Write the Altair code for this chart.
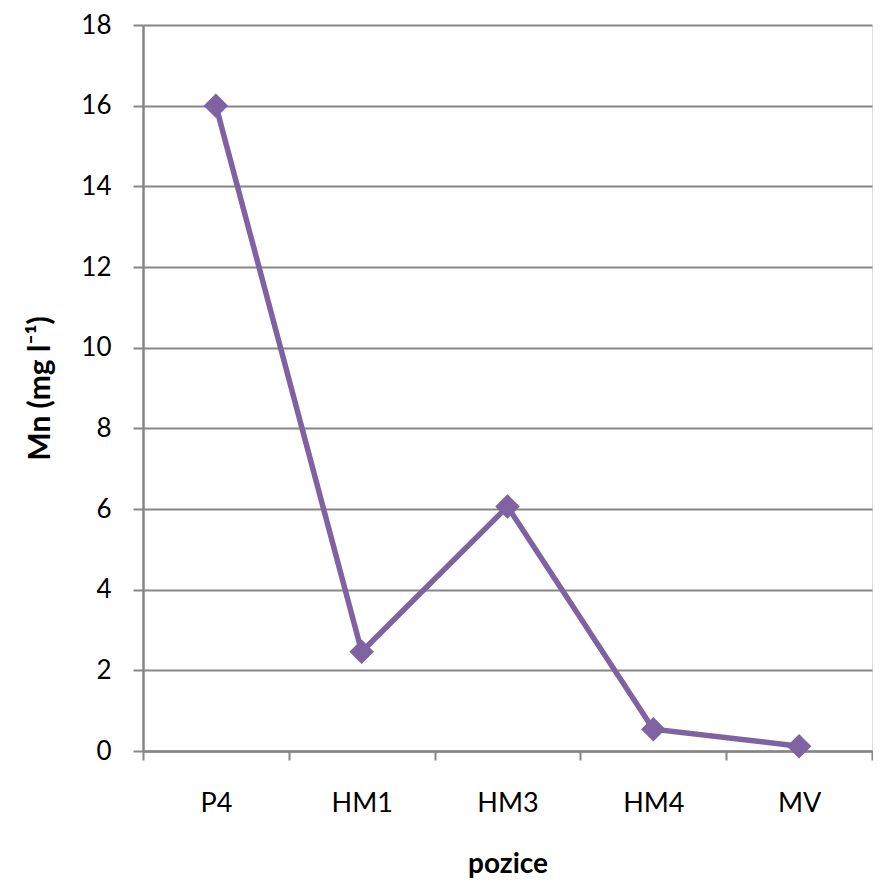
import altair as alt
import pandas as pd

categories = ["P4", "HM1", "HM3", "HM4", "MV"]
values = [16.0, 2.46, 6.06, 0.54, 0.12]

df = pd.DataFrame({"pozice": categories, "Mn": values})

FONT = "Lato"
GRID = "#868686"
PURPLE = "#7E62A1"

x = alt.X(
    "pozice:N",
    sort=categories,
    bandPosition=0.5,
    scale=alt.Scale(type="band", paddingInner=0, paddingOuter=0),
    axis=alt.Axis(
        title="pozice",
        labelAngle=0,
        tickBand="extent",
        domainColor=GRID,
        domainWidth=2.5,
        tickColor=GRID,
        tickWidth=2,
        tickSize=9,
        labelPadding=30,
        labelFontSize=27,
        labelFont=FONT,
        labelColor="black",
        titleFont=FONT,
        titleFontSize=28,
        titleFontWeight="bold",
        titleColor="black",
        titlePadding=34,
        grid=False,
    ),
)
y = alt.Y(
    "Mn:Q",
    scale=alt.Scale(domain=[0, 18], nice=False),
    axis=alt.Axis(
        title="Mn (mg l⁻¹)",
        values=list(range(0, 19, 2)),
        domainColor=GRID,
        domainWidth=2.5,
        tickColor=GRID,
        tickWidth=2,
        tickSize=10,
        labelPadding=22,
        labelFontSize=26,
        labelFont=FONT,
        labelColor="black",
        titleFont=FONT,
        titleFontSize=30,
        titleFontWeight="bold",
        titleColor="black",
        titlePadding=25,
        gridColor=GRID,
        gridWidth=2,
    ),
)

base = alt.Chart(df).encode(x=x, y=y)
line = base.mark_line(color=PURPLE, strokeWidth=5.5)
pts = base.mark_point(shape="diamond", filled=True, color=PURPLE, size=600, opacity=1)

chart = (
    (line + pts)
    .properties(
        width=729,
        height=726,
        autosize=alt.AutoSizeParams(type="none"),
        padding={"left": 135, "top": 17, "right": 1, "bottom": 128},
    )
    .configure_view(stroke=None)
    .configure(background="white")
)

chart.save("out.html", embed_options={"renderer": "svg", "actions": False})
